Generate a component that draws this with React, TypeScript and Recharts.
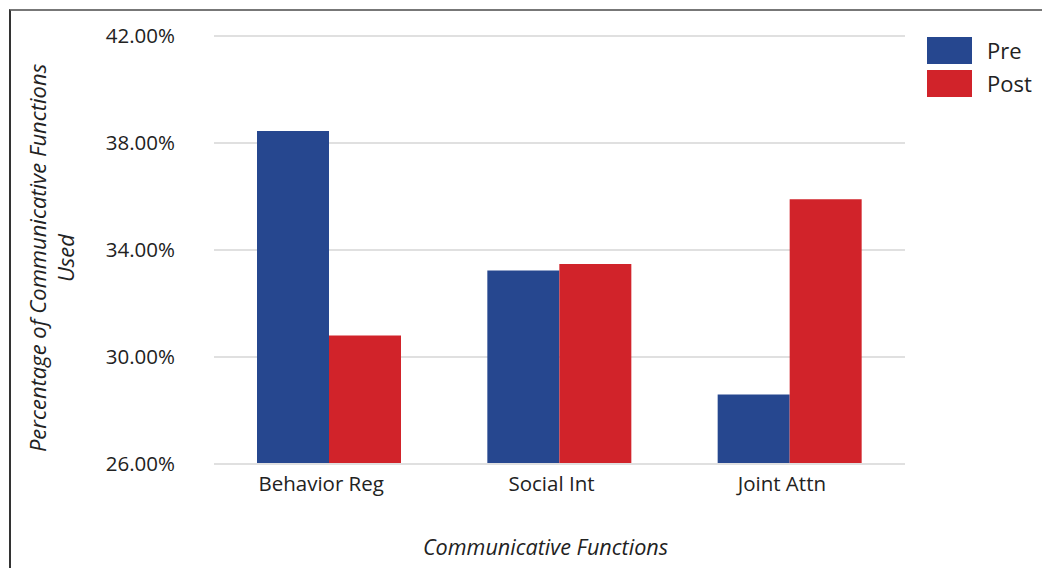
import React from "react";
import { BarChart, Bar, XAxis, YAxis, CartesianGrid, Legend, Label } from "recharts";

const categories = ["Behavior Reg", "Social Int", "Joint Attn"];
const preValues = [38.45, 33.23, 28.6];
const postValues = [30.8, 33.48, 35.9];
const yTicks = [26, 30, 34, 38, 42];
const seriesNames = ["Pre", "Post"];
const seriesColors = ["#26478F", "#D1232A"];

const data = categories.map((c, i) => ({ name: c, Pre: preValues[i], Post: postValues[i] }));

const FONT = "'Open Sans', sans-serif";
const TEXT = "#222";

const LegendContent = () => (
  <div style={{ fontFamily: FONT, color: TEXT }}>
    {seriesNames.map((n, i) => (
      <div key={n} style={{ display: "flex", alignItems: "center", height: 27, marginBottom: 6 }}>
        <div style={{ width: 45, height: 27, background: seriesColors[i] }} />
        <span style={{ marginLeft: 15, fontSize: 22, lineHeight: "27px" }}>{n}</span>
      </div>
    ))}
  </div>
);

const YTitle = (props: any) => {
  const vb = props.viewBox || {};
  const cy = vb.y + vb.height / 2 + 8;
  return (
    <text
      transform={`rotate(-90, 54, ${cy})`}
      x={54}
      y={cy}
      textAnchor="middle"
      fontFamily={FONT}
      fontStyle="italic"
      fontSize={22}
      fill={TEXT}
    >
      <tspan x={54} dy={-8}>Percentage of Communicative Functions</tspan>
      <tspan x={54} dy={28}>Used</tspan>
    </text>
  );
};

const XTitle = (props: any) => {
  const vb = props.viewBox || {};
  const cx = vb.x + vb.width / 2 - 14;
  return (
    <text
      x={cx}
      y={555}
      textAnchor="middle"
      fontFamily={FONT}
      fontStyle="italic"
      fontSize={21.6}
      fill={TEXT}
    >
      Communicative Functions
    </text>
  );
};

export default function App() {
  return (
    <div style={{ position: "absolute", left: 0, top: 0, width: 1042, height: 568, background: "#fff" }}>
      <div
        style={{
          position: "absolute",
          left: 9,
          top: 9,
          width: 1040,
          height: 570,
          borderLeft: "2px solid #333",
          borderTop: "2px solid #777",
          boxSizing: "border-box",
        }}
      />
      <div style={{ position: "absolute", left: 0, top: 0 }}>
        <BarChart
          width={1042}
          height={568}
          data={data}
          margin={{ top: 36, right: 137, bottom: 64, left: 0 }}
          barGap={0}
          barSize={72}
        >
          <CartesianGrid vertical={false} stroke="#e0e0e0" strokeWidth={2} />
          <XAxis
            dataKey="name"
            height={40}
            axisLine={{ stroke: "#e0e0e0", strokeWidth: 2 }}
            tickLine={false}
            tickSize={0}
            tickMargin={12}
            tick={{ fontFamily: FONT, fontSize: 20.5, fill: TEXT, dx: -8 }}
          >
            <Label content={<XTitle />} />
          </XAxis>
          <YAxis
            width={214}
            domain={[26, 42]}
            ticks={yTicks}
            interval={0}
            axisLine={false}
            tickLine={false}
            tickSize={0}
            tickMargin={39}
            tickFormatter={(v: number) => v.toFixed(2) + "%"}
            tick={{ fontFamily: FONT, fontSize: 20.5, fill: TEXT }}
          >
            <Label content={<YTitle />} />
          </YAxis>
          <Legend
            layout="horizontal"
            verticalAlign="middle"
            align="center"
            content={<LegendContent />}
            wrapperStyle={{ position: "absolute", left: 927, top: 37, width: "auto", height: "auto" }}
          />
          <Bar dataKey="Pre" fill={seriesColors[0]} isAnimationActive={false} />
          <Bar dataKey="Post" fill={seriesColors[1]} isAnimationActive={false} />
        </BarChart>
      </div>
    </div>
  );
}
